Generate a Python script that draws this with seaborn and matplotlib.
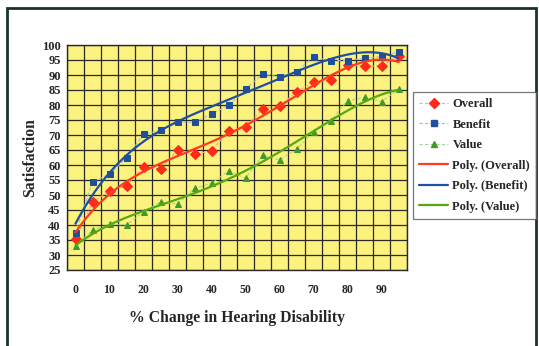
import numpy as np
import pandas as pd
import matplotlib
matplotlib.use("Agg")
import matplotlib.pyplot as plt
from matplotlib.lines import Line2D
from matplotlib.patches import Rectangle
from matplotlib.ticker import MultipleLocator, FixedLocator
import seaborn as sns

# ---- data ----
change = [0, 5, 10, 15, 20, 25, 30, 35, 40, 45, 50, 55, 60, 65, 70, 75, 80, 85, 90, 95]
overall = [35.3, 47.6, 51.3, 53.1, 59.4, 58.6, 65.0, 63.6, 64.7, 71.3,
           72.6, 78.7, 79.7, 84.4, 87.6, 88.3, 93.3, 93.0, 93.0, 96.4]
benefit = [37.4, 54.4, 56.9, 62.4, 70.2, 71.6, 74.3, 74.2, 77.0, 79.9,
           85.2, 90.3, 89.4, 91.1, 96.1, 94.8, 94.8, 95.6, 96.1, 97.8]
value = [33.0, 38.3, 40.2, 40.0, 44.4, 47.7, 47.0, 52.2, 53.9, 58.0,
         55.6, 63.3, 61.7, 65.2, 71.1, 74.7, 81.4, 82.6, 81.1, 85.2]
x_tick_labels = ["0", "10", "20", "30", "40", "50", "60", "70", "80", "90"]
series_names = ["Overall", "Benefit", "Value"]
poly_order = 4

df = pd.DataFrame({"x": change, "Overall": overall, "Benefit": benefit, "Value": value})

# polynomial trendlines, as Excel's "Poly." trendlines
idx = np.arange(1, len(change) + 1)
fine_idx = np.linspace(1, len(change), 200)
fine_x = (fine_idx - 1) * 5
trend = {"x": fine_x}
for name in series_names:
    coef = np.polyfit(idx, df[name].values, poly_order)
    trend[name] = np.polyval(coef, fine_idx)
tdf = pd.DataFrame(trend)

sns.set_style("white")
serif = ["Liberation Serif", "DejaVu Serif"]
plt.rcParams["font.family"] = serif
plt.rcParams["font.weight"] = "bold"

W, H = 539, 346
fig = plt.figure(figsize=(W / 100, H / 100), dpi=100)
fig.patch.set_facecolor("white")
L, R, T, B = 67, 407, 45, 270
ax = fig.add_axes([L / W, 1 - B / H, (R - L) / W, (B - T) / H])
ax.set_facecolor("#fcf27e")

marker_col = {"Overall": "#ff2a1a", "Benefit": "#1f4e9a", "Value": "#3f9a2a"}
conn_col = {"Overall": "#ffa090", "Benefit": "#9dbfe0", "Value": "#9fd6a0"}
trend_col = {"Overall": "#ff3b1f", "Benefit": "#1f4fa0", "Value": "#58a810"}
markers = {"Overall": "D", "Benefit": "s", "Value": "^"}
msize = {"Overall": 5.5, "Benefit": 4.2, "Value": 4.5}

for name in series_names:
    sns.lineplot(data=df, x="x", y=name, ax=ax, color=conn_col[name],
                 linestyle=(0, (3, 2)), linewidth=0.8, marker=markers[name],
                 markersize=msize[name], markerfacecolor=marker_col[name],
                 markeredgecolor=marker_col[name], zorder=3)
for name in series_names:
    sns.lineplot(data=tdf, x="x", y=name, ax=ax, color=trend_col[name],
                 linewidth=1.6, zorder=4)

ax.set_xlim(-2.5, 97.5)
ax.set_ylim(25, 100)
ax.yaxis.set_major_locator(MultipleLocator(5))
ax.xaxis.set_major_locator(FixedLocator([0, 10, 20, 30, 40, 50, 60, 70, 80, 90]))
ax.set_xticklabels(x_tick_labels)
ax.xaxis.set_minor_locator(FixedLocator(np.arange(-2.5, 98, 5)))
ax.grid(False)
for v in np.arange(-2.5, 98, 5):
    ax.axvline(v, color="#2a2a2a", linewidth=0.9, zorder=1)
for v in np.arange(25, 101, 5):
    ax.axhline(v, color="#2a2a2a", linewidth=0.9, zorder=1)

ax.tick_params(axis="x", which="major", length=0, pad=10, labelsize=8.5)
ax.tick_params(axis="x", which="minor", length=5, direction="inout", width=0.9, color="#2a2a2a")
ax.tick_params(axis="y", which="major", length=5, direction="inout", width=0.9,
               color="#2a2a2a", pad=2, labelsize=9)
for lab in ax.get_xticklabels() + ax.get_yticklabels():
    lab.set_fontweight("bold")
for s in ax.spines.values():
    s.set_color("#2a2a2a")
    s.set_linewidth(1.0)

ax.set_xlabel("% Change in Hearing Disability", fontsize=11.3, fontweight="bold")
ax.set_ylabel("Satisfaction", fontsize=11.3, fontweight="bold")
ax.xaxis.set_label_coords(0.5, (B - 318) / (B - T))
ax.yaxis.set_label_coords((30 - L) / (R - L), 0.5)
ax.yaxis.label.set_verticalalignment("center")
ax.xaxis.label.set_verticalalignment("center")

handles = []
for name in series_names:
    handles.append(Line2D([], [], color=conn_col[name], linestyle=(0, (3, 2)), linewidth=0.8,
                          marker=markers[name], markersize=msize[name] - 0.5,
                          markerfacecolor=marker_col[name], markeredgecolor=marker_col[name]))
for name in series_names:
    handles.append(Line2D([], [], color=trend_col[name], linewidth=1.6))
labels = series_names + ["Poly. (%s)" % n for n in series_names]
leg = fig.legend(handles, labels, loc="upper left",
                 bbox_to_anchor=(413 / W, 1 - 92 / H), bbox_transform=fig.transFigure,
                 frameon=True, fancybox=False, borderaxespad=0, borderpad=0.5,
                 handlelength=2.3, handletextpad=0.35, labelspacing=0.68,
                 prop={"family": serif, "weight": "bold", "size": 9})
leg.get_frame().set_edgecolor("#555555")
leg.get_frame().set_linewidth(0.9)

fig.patches.append(Rectangle((7 / W, -0.1), (536 - 7) / W, 1.1 - 8 / H + 0.0,
                             transform=fig.transFigure, fill=False,
                             edgecolor="#17332b", linewidth=2.0, zorder=0))

fig.savefig("out.png", dpi=100, facecolor="white")
